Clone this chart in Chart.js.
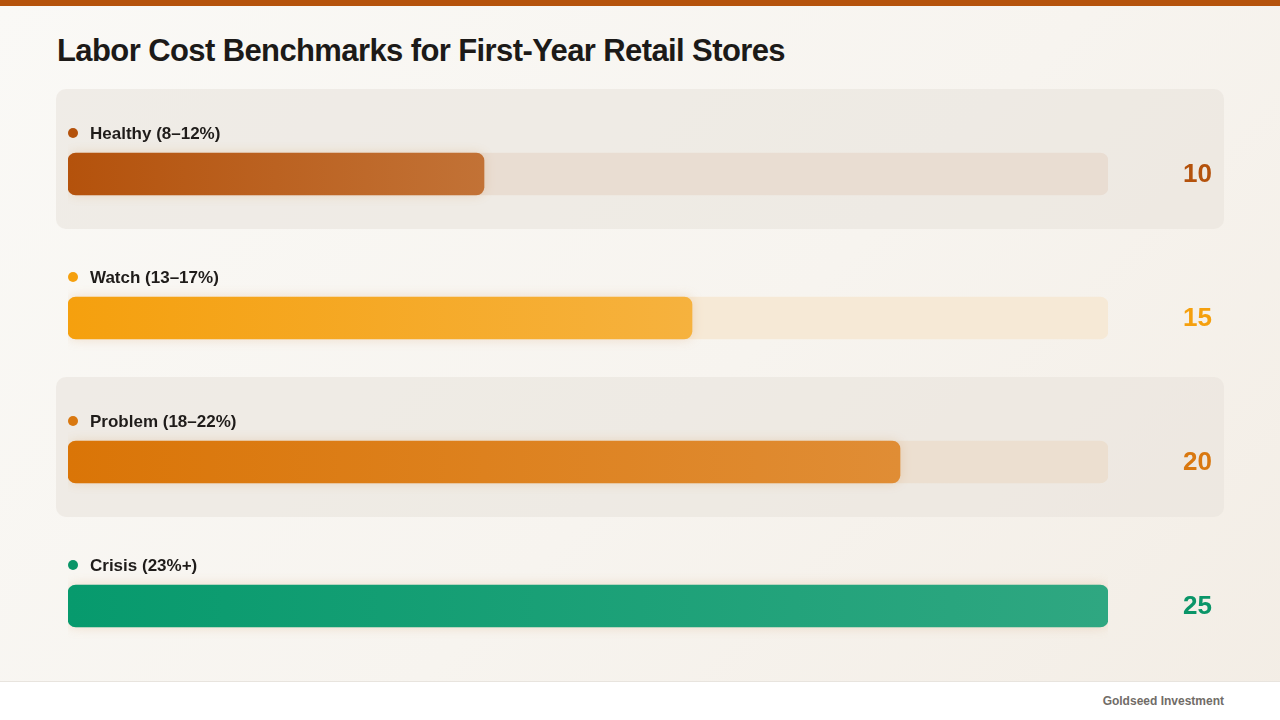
<!DOCTYPE html>
<html>
<head>
<meta charset="utf-8">
<script src="https://cdn.jsdelivr.net/npm/chart.js@4.4.1/dist/chart.umd.min.js"></script>
<style>
  html, body { margin: 0; padding: 0; }
  body {
    width: 1280px; height: 720px; overflow: hidden; position: relative;
    background: linear-gradient(135deg, #faf9f6 0%, #f7f4ef 55%, #f3ede5 100%);
    font-family: "Liberation Sans", Arial, sans-serif;
  }
  .topbar { position: absolute; left: 0; top: 0; width: 1280px; height: 6px; background: #b5530c; }
  h1 {
    position: absolute; left: 57px; top: 33px; margin: 0;
    font-size: 31px; font-weight: bold; color: #1c1a18; letter-spacing: -0.6px;
  }
  .chart-wrap { position: absolute; left: 0; top: 0; width: 1280px; height: 720px; }
  .footer {
    position: absolute; left: 0; top: 681px; width: 1280px; height: 39px;
    background: #ffffff; border-top: 1px solid #e8e4de;
  }
  .footer span {
    position: absolute; right: 56px; top: 12px;
    font-size: 12px; font-weight: bold; color: #716c67;
  }
</style>
</head>
<body>
<div class="topbar"></div>
<h1>Labor Cost Benchmarks for First-Year Retail Stores</h1>
<div class="chart-wrap"><canvas id="benchChart"></canvas></div>
<div class="footer"><span>Goldseed Investment</span></div>

<script>
// data
const categories = ['Healthy (8–12%)', 'Watch (13–17%)', 'Problem (18–22%)', 'Crisis (23%+)'];
const values = [10, 15, 20, 25];
const scaleMax = 25;
const trackValues = [25, 25, 25, 25];

// styles
const barStart = ['#b4520c', '#f5a00e', '#da7507', '#079a6d'];
const barEnd = ['#c27236', '#f6b23e', '#e08d35', '#2fa781'];
const trackColors = ['#e9ddd2', '#f6e9d6', '#ecdfd0', '#dcece4'];
const valueColors = ['#b4520c', '#f5a00e', '#d97810', '#0a9568'];

const barOffset = 13; // bar center sits below the row center

function barGradient(context) {
  const chart = context.chart;
  const i = context.dataIndex;
  const area = chart.chartArea;
  if (!area || !chart.scales.x) return barStart[i];
  const xEnd = chart.scales.x.getPixelForValue(values[i]);
  const g = chart.ctx.createLinearGradient(area.left, 0, xEnd, 0);
  g.addColorStop(0, barStart[i]);
  g.addColorStop(1, barEnd[i]);
  return g;
}

const panelPlugin = {
  id: 'panels',
  beforeDatasetsDraw(chart) {
    const ctx = chart.ctx;
    const y = chart.scales.y;
    const band = (y.bottom - y.top) / categories.length;
    ctx.save();
    categories.forEach((c, i) => {
      if (i % 2 !== 0) return;
      const top = y.getPixelForValue(i) - band / 2 - barOffset;
      ctx.fillStyle = 'rgba(232, 226, 218, 0.55)';
      ctx.beginPath();
      ctx.roundRect(56, top, 1168, band - 4, 10);
      ctx.fill();
    });
    ctx.restore();
  }
};

const labelPlugin = {
  id: 'rowLabels',
  afterDatasetsDraw(chart) {
    const ctx = chart.ctx;
    const area = chart.chartArea;
    const meta = chart.getDatasetMeta(1);
    ctx.save();
    meta.data.forEach((bar, i) => {
      const barTop = bar.y - bar.height / 2;
      const ly = barTop - 20;
      ctx.fillStyle = valueColors[i];
      ctx.beginPath();
      ctx.arc(area.left + 5, ly, 5, 0, Math.PI * 2);
      ctx.fill();
      ctx.fillStyle = '#1f1c1a';
      ctx.font = 'bold 17px "Liberation Sans", Arial, sans-serif';
      ctx.textAlign = 'left';
      ctx.textBaseline = 'middle';
      ctx.fillText(categories[i], area.left + 22, ly + 1);

      ctx.fillStyle = valueColors[i];
      ctx.font = 'bold 26px "Liberation Sans", Arial, sans-serif';
      ctx.textAlign = 'right';
      ctx.fillText(String(values[i]), area.right + 104, bar.y + 1);
    });
    ctx.restore();
  }
};

const glowPlugin = {
  id: 'barGlow',
  beforeDatasetDraw(chart, args) {
    if (args.index !== 1) return;
    chart.ctx.save();
    chart.ctx.shadowColor = 'rgba(200, 120, 40, 0.2)';
    chart.ctx.shadowBlur = 12;
  },
  afterDatasetDraw(chart, args) {
    if (args.index !== 1) return;
    chart.ctx.restore();
  }
};

new Chart(document.getElementById('benchChart'), {
  type: 'bar',
  data: {
    labels: categories,
    datasets: [
      {
        label: 'Track',
        data: trackValues,
        backgroundColor: trackColors,
        borderRadius: 8,
        borderSkipped: false,
        barThickness: 42,
        grouped: false,
        order: 2
      },
      {
        label: 'Labor cost %',
        data: values,
        backgroundColor: barGradient,
        borderRadius: 8,
        borderSkipped: false,
        barThickness: 42,
        grouped: false,
        order: 1
      }
    ]
  },
  options: {
    indexAxis: 'y',
    responsive: true,
    maintainAspectRatio: false,
    animation: false,
    layout: { padding: { left: 68, right: 172, top: 102, bottom: 42 } },
    scales: {
      x: { display: false, min: 0, max: scaleMax },
      y: { display: false }
    },
    plugins: {
      legend: { display: false },
      tooltip: { enabled: false }
    }
  },
  plugins: [panelPlugin, glowPlugin, labelPlugin]
});
</script>
</body>
</html>
